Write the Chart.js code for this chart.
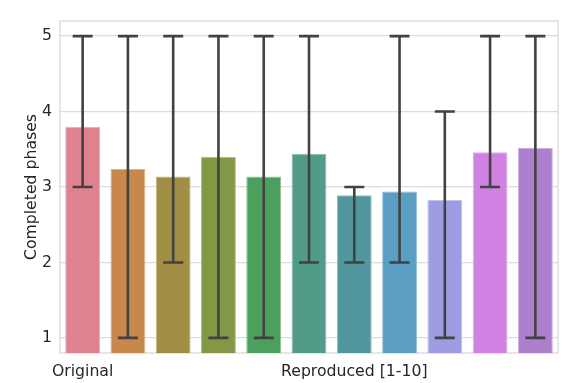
<!DOCTYPE html>
<html>
<head>
<meta charset="utf-8">
<script src="https://cdn.jsdelivr.net/npm/chart.js@4"></script>
<style>
  html, body { margin: 0; padding: 0; background: #fff; }
  #wrap { width: 580px; height: 383px; }
</style>
</head>
<body>
<div id="wrap"><canvas id="Chart" width="580" height="383"></canvas></div>
<script>
// data
const categories = ["Original","R1","R2","R3","R4","R5","R6","R7","R8","R9","R10"];
const tickLabels = ["Original","","","","","","Reproduced [1-10]","","","",""];
const meanPhases = [3.8, 3.24, 3.14, 3.4, 3.14, 3.44, 2.89, 2.94, 2.83, 3.46, 3.52];
const errLow  = [3, 1, 2, 1, 1, 2, 2, 2, 1, 3, 1];
const errHigh = [5, 5, 5, 5, 5, 5, 3, 5, 4, 5, 5];
const yTicks = [1, 2, 3, 4, 5];

const barColors = ["#df8290","#c8874b","#a08e45","#839845","#4ca05e","#519b88",
                   "#52969d","#5b9ec3","#9e9de3","#cf82e1","#ae7fcc"];

function lighten(hex, f)
{
    let r=parseInt(hex.substr(1,2),16), g=parseInt(hex.substr(3,2),16), b=parseInt(hex.substr(5,2),16);
    r=Math.round(r+(255-r)*f); g=Math.round(g+(255-g)*f); b=Math.round(b+(255-b)*f);
    return "rgb("+r+","+g+","+b+")";
}

const errorBars = {
    id: "errorBars",
    afterDatasetsDraw(chart) {
        const ctx = chart.ctx;
        const meta = chart.getDatasetMeta(0);
        const y = chart.scales.y;
        ctx.save();
        ctx.strokeStyle = "#424242";
        ctx.lineWidth = 2.6;
        ctx.lineCap = "butt";
        meta.data.forEach((bar, i) => {
            const x = bar.x;
            const yl = y.getPixelForValue(errLow[i]);
            const yh = y.getPixelForValue(errHigh[i]);
            const cap = 10;
            ctx.beginPath();
            ctx.moveTo(x, yl); ctx.lineTo(x, yh);
            ctx.moveTo(x-cap, yl); ctx.lineTo(x+cap, yl);
            ctx.moveTo(x-cap, yh); ctx.lineTo(x+cap, yh);
            ctx.stroke();
        });
        ctx.restore();
    },
    beforeDatasetsDraw(chart) {
        // frame on all four sides
        const a = chart.chartArea;
        const ctx = chart.ctx;
        ctx.save();
        ctx.strokeStyle = "#d6d6d6";
        ctx.lineWidth = 1.2;
        ctx.strokeRect(a.left, a.top, a.right-a.left, a.bottom-a.top);
        ctx.restore();
    }
};

const ctx = document.getElementById("Chart");
new Chart(ctx, {
    type: "bar",
    data: {
        labels: categories,
        datasets: [{
            data: meanPhases,
            backgroundColor: barColors,
            borderColor: barColors.map(c => lighten(c, 0.35)),
            borderWidth: 1,
            borderSkipped: false,
            barPercentage: 0.77,
            categoryPercentage: 1.0
        }]
    },
    options: {
        responsive: false,
        animation: false,
        devicePixelRatio: 1,
        layout: { padding: { top: 21, right: 22, left: 0, bottom: 0 } },
        plugins: { legend: { display: false }, tooltip: { enabled: false } },
        scales: {
            x: {
                grid: { display: false },
                border: { display: false },
                ticks: {
                    autoSkip: false, maxRotation: 0, minRotation: 0,
                    color: "#262626",
                    font: { family: "DejaVu Sans", size: 15.7 },
                    padding: 2,
                    callback: (v, i) => tickLabels[i]
                },
                afterFit: s => { s.height = 30; }
            },
            y: {
                min: 0.8, max: 5.2,
                afterBuildTicks: s => { s.ticks = yTicks.map(v => ({ value: v })); },
                grid: { color: "#dcdcdc", lineWidth: 1.2, drawTicks: false },
                border: { display: false },
                ticks: {
                    color: "#262626",
                    font: { family: "DejaVu Sans", size: 15.7 },
                    padding: 8
                },
                title: {
                    display: true,
                    text: "Completed phases",
                    color: "#262626",
                    font: { family: "DejaVu Sans", size: 15.7 },
                    padding: { top: 23, bottom: 0 }
                },
                afterFit: s => { s.width = 60; }
            }
        }
    },
    plugins: [errorBars]
});
</script>
</body>
</html>
